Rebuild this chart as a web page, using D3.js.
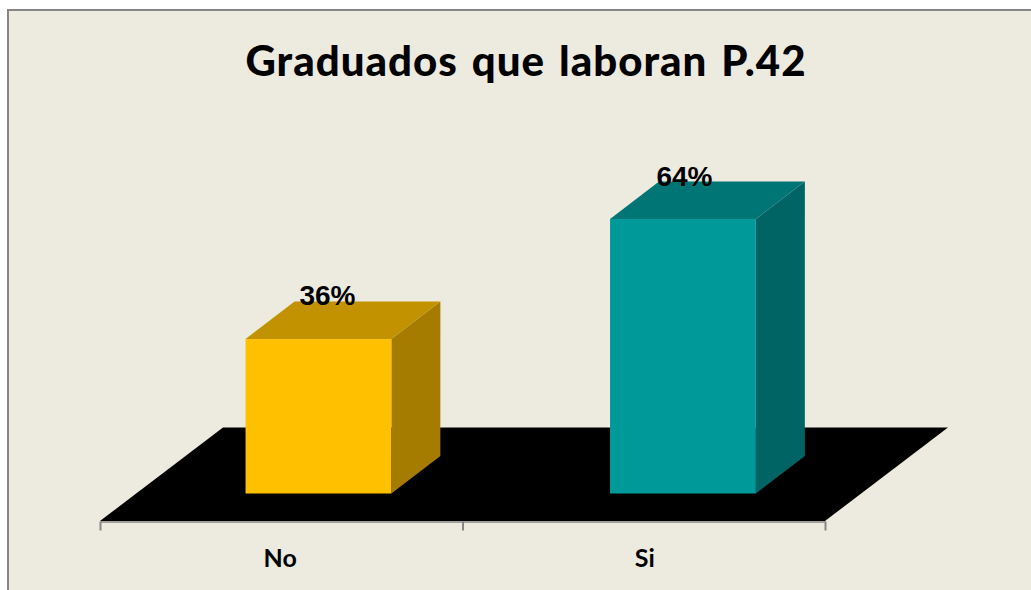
<!DOCTYPE html>
<html>
<head>
<meta charset="utf-8">
<title>Graduados que laboran P.42</title>
<script src="https://cdn.jsdelivr.net/npm/d3@7"></script>
<style>
	body { margin: 0; background: #fff; overflow: hidden; }
	svg { display: block; }
</style>
</head>
<body>
<script>
// * Data
const categories = ["No", "Si"];
const percents = [36, 64];
const chartTitle = "Graduados que laboran P.42";

// * Size
const width = 1031;
const height = 590;

// * SVG CANVAS
const svg = d3
	.select("body")
	.append("svg")
	.attr("width", width)
	.attr("height", height);

// chart area, cut off by the window on the right and at the bottom
svg.append("rect")
	.attr("x", 8)
	.attr("y", 10)
	.attr("width", width)
	.attr("height", height)
	.attr("fill", "#edeadf")
	.attr("stroke", "#868686")
	.attr("stroke-width", 2);

// * Scales
const floorLeft = 100;
const floorRight = 825;
const floorFront = 521;
const floorBack = 427.5;
const floorSkew = 123;

const xScale = d3
	.scaleBand()
	.domain(categories)
	.range([floorLeft, floorRight])
	.paddingInner(0.6)
	.paddingOuter(0.2945);

const yScale = d3.scaleLinear().domain([0, 100]).range([493.5, 64.5]);

// scale for the tick marks, they sit between the categories
const tickScale = d3
	.scaleLinear()
	.domain([0, categories.length])
	.range([floorLeft, floorRight]);

// * Floor
const floorPath = d3.path();
floorPath.moveTo(floorLeft, floorFront);
floorPath.lineTo(floorRight, floorFront);
floorPath.lineTo(floorRight + floorSkew, floorBack);
floorPath.lineTo(floorLeft + floorSkew, floorBack);
floorPath.closePath();
svg.append("path").attr("d", floorPath.toString()).attr("fill", "#000");

// * Axis
const tickAxis = svg
	.append("g")
	.attr("transform", `translate(0,${floorFront + 0.5})`)
	.call(
		d3
			.axisBottom(tickScale)
			.tickValues(d3.range(categories.length + 1))
			.tickSize(9)
			.tickSizeOuter(0)
			.tickFormat("")
	);
tickAxis.select(".domain").attr("stroke", "#868686").attr("stroke-width", 1.5);
tickAxis.selectAll("line").attr("stroke", "#868686").attr("stroke-width", 2);

const labelAxis = svg
	.append("g")
	.attr("transform", `translate(0,${floorFront})`)
	.call(d3.axisBottom(xScale).tickSize(0).tickPadding(28));
labelAxis.select(".domain").remove();
labelAxis
	.selectAll("text")
	.attr("fill", "#000")
	.style("font-family", "Lato")
	.style("font-size", "25px")
	.style("font-weight", "700");

// * Bars
const depthX = 49;
const depthY = 37.5;
const barShift = 38.2; // front of the bar sits back from the floor edge
const barColors = {
	No: { front: "#ffc000", top: "#c29200", side: "#a67c00" },
	Si: { front: "#009999", top: "#007575", side: "#006464" },
};
const labelShift = { No: 9, Si: 1.5 };
const labelRise = { No: 34, Si: 33 };

const rows = categories.map((name, i) => ({ name, value: percents[i] }));

const bars = svg
	.selectAll("g.bar")
	.data(rows)
	.join("g")
	.attr("class", "bar");

const left = (d) => xScale(d.name) + barShift;
const right = (d) => left(d) + xScale.bandwidth();

bars.append("polygon")
	.attr("fill", (d) => barColors[d.name].side)
	.attr("points", (d) =>
		[
			[right(d), yScale(d.value)],
			[right(d) + depthX, yScale(d.value) - depthY],
			[right(d) + depthX, yScale(0) - depthY],
			[right(d), yScale(0)],
		].join(" ")
	);

bars.append("polygon")
	.attr("fill", (d) => barColors[d.name].top)
	.attr("points", (d) =>
		[
			[left(d), yScale(d.value)],
			[left(d) + depthX, yScale(d.value) - depthY],
			[right(d) + depthX, yScale(d.value) - depthY],
			[right(d), yScale(d.value)],
		].join(" ")
	);

bars.append("rect")
	.attr("x", left)
	.attr("y", (d) => yScale(d.value))
	.attr("width", xScale.bandwidth())
	.attr("height", (d) => yScale(0) - yScale(d.value))
	.attr("fill", (d) => barColors[d.name].front);

// * Value labels
bars.append("text")
	.attr("x", (d) => left(d) + xScale.bandwidth() / 2 + labelShift[d.name])
	.attr("y", (d) => yScale(d.value) - labelRise[d.name])
	.attr("text-anchor", "middle")
	.attr("font-family", "'Liberation Sans'")
	.attr("font-size", 28)
	.attr("font-weight", 700)
	.attr("fill", "#000")
	.text((d) => d.value + "%");

// * Title
svg.append("text")
	.attr("x", 526)
	.attr("y", 76)
	.attr("text-anchor", "middle")
	.attr("font-family", "Lato")
	.attr("font-size", 42)
	.attr("font-weight", 900)
	.attr("letter-spacing", 1)
	.attr("word-spacing", 3)
	.attr("fill", "#000")
	.text(chartTitle);
</script>
</body>
</html>
